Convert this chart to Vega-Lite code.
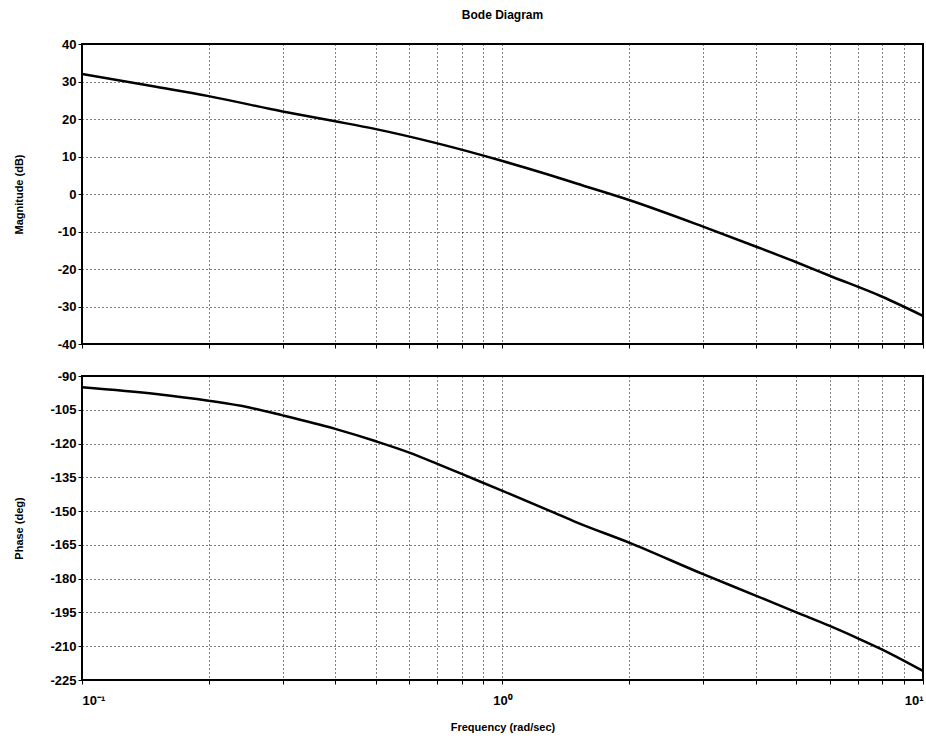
{
  "$schema": "https://vega.github.io/schema/vega-lite/v6.json",
  "padding": {"left": 12, "top": 8, "right": 0, "bottom": 0},
  "background": "white",
  "datasets": {
    "mag": [
      {"freq": 0.1, "mag": 32},
      {"freq": 0.15, "mag": 28.6},
      {"freq": 0.2, "mag": 26.1},
      {"freq": 0.3, "mag": 22},
      {"freq": 0.4, "mag": 19.4},
      {"freq": 0.5, "mag": 17.3},
      {"freq": 0.7, "mag": 13.5},
      {"freq": 1.0, "mag": 8.8},
      {"freq": 1.3, "mag": 5},
      {"freq": 1.5, "mag": 2.8},
      {"freq": 2.0, "mag": -1.6},
      {"freq": 3.0, "mag": -8.7},
      {"freq": 4.0, "mag": -14},
      {"freq": 5.0, "mag": -18.2},
      {"freq": 6.0, "mag": -21.8},
      {"freq": 8.0, "mag": -27.4},
      {"freq": 10.0, "mag": -32.5}
    ],
    "phase": [
      {"freq": 0.1, "phase": -95},
      {"freq": 0.15, "phase": -98},
      {"freq": 0.2, "phase": -101},
      {"freq": 0.25, "phase": -104},
      {"freq": 0.3, "phase": -107.5},
      {"freq": 0.4, "phase": -113.5},
      {"freq": 0.5, "phase": -119},
      {"freq": 0.6, "phase": -124},
      {"freq": 0.7, "phase": -129},
      {"freq": 0.8, "phase": -133.5},
      {"freq": 1.0, "phase": -141},
      {"freq": 1.3, "phase": -150},
      {"freq": 1.5, "phase": -155},
      {"freq": 2.0, "phase": -164},
      {"freq": 3.0, "phase": -178},
      {"freq": 4.0, "phase": -187.5},
      {"freq": 5.0, "phase": -195},
      {"freq": 6.0, "phase": -201},
      {"freq": 7.0, "phase": -206.5},
      {"freq": 8.0, "phase": -211.5},
      {"freq": 10.0, "phase": -221}
    ]
  },
  "config": {
    "font": "Liberation Sans",
    "view": {"stroke": "black", "strokeWidth": 2},
    "axis": {
      "grid": true,
      "gridColor": "black",
      "gridDash": [1, 3],
      "gridWidth": 1,
      "gridOpacity": 1,
      "domain": false,
      "tickColor": "black",
      "tickSize": 5,
      "labelFont": "Liberation Sans",
      "labelFontWeight": "bold",
      "labelFontSize": 13,
      "labelColor": "black",
      "titleFont": "Liberation Sans",
      "titleFontWeight": "bold",
      "titleFontSize": 11,
      "titleColor": "black"
    }
  },
  "spacing": 17,
  "vconcat": [
    {
      "title": {"text": "Bode Diagram", "fontSize": 12, "fontWeight": "bold", "font": "Liberation Sans", "offset": 16, "color": "black"},
      "width": 841,
      "height": 300,
      "data": {"name": "mag"},
      "mark": {"type": "line", "color": "black", "strokeWidth": 2.5, "clip": true, "interpolate": "monotone"},
      "encoding": {
        "x": {
          "field": "freq", "type": "quantitative",
          "scale": {"type": "log", "domain": [0.1, 10], "nice": false},
          "axis": {"values": [0.1,0.2,0.3,0.4,0.5,0.6,0.7,0.8,0.9,1,2,3,4,5,6,7,8,9,10], "labels": false, "title": null, "tickSize": 4}
        },
        "y": {
          "field": "mag", "type": "quantitative",
          "scale": {"domain": [-40, 40], "nice": false},
          "axis": {"values": [-40,-30,-20,-10,0,10,20,30,40], "labelExpr": "'' + datum.value", "title": "Magnitude (dB)", "titleX": -58, "tickSize": 4, "labelPadding": 2}
        }
      }
    },
    {
      "width": 841,
      "height": 304,
      "data": {"name": "phase"},
      "mark": {"type": "line", "color": "black", "strokeWidth": 2.5, "clip": true, "interpolate": "monotone"},
      "encoding": {
        "x": {
          "field": "freq", "type": "quantitative",
          "scale": {"type": "log", "domain": [0.1, 10], "nice": false},
          "axis": {
            "values": [0.1,0.2,0.3,0.4,0.5,0.6,0.7,0.8,0.9,1,2,3,4,5,6,7,8,9,10],
            "labelExpr": "datum.value == 0.1 ? '10⁻¹' : datum.value == 1 ? '10⁰' : datum.value == 10 ? '10¹' : ''",
            "title": "Frequency (rad/sec)",
            "tickSize": 4,
            "labelPadding": 10,
            "titlePadding": 14
          }
        },
        "y": {
          "field": "phase", "type": "quantitative",
          "scale": {"domain": [-225, -90], "nice": false},
          "axis": {"values": [-225,-210,-195,-180,-165,-150,-135,-120,-105,-90], "labelExpr": "'' + datum.value", "title": "Phase (deg)", "titleX": -58, "tickSize": 4, "labelPadding": 2}
        }
      }
    }
  ]
}
